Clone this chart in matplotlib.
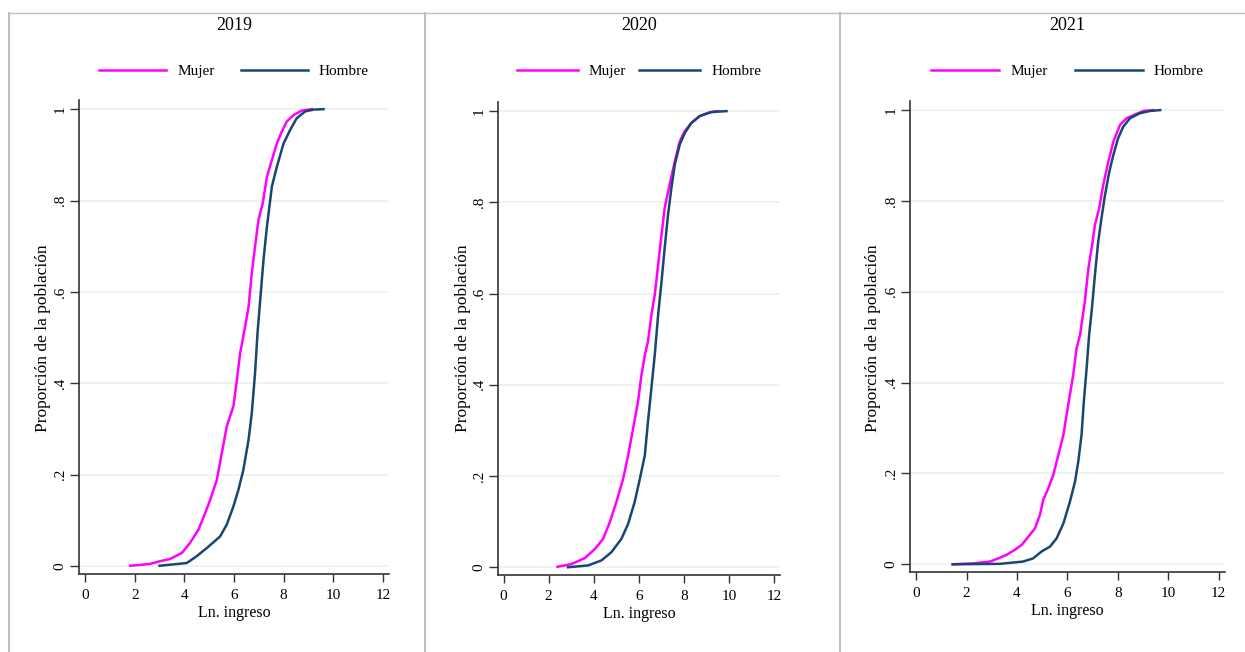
import matplotlib
matplotlib.use("Agg")
import matplotlib.pyplot as plt
from matplotlib.lines import Line2D

years = ["2019", "2020", "2021"]

x_mujer_2019 = [1.82, 2.62, 3.02, 3.43, 3.90, 4.23, 4.57, 4.84, 5.04, 5.31, 5.51, 5.71, 5.98, 6.12, 6.25,
                6.45, 6.59, 6.72, 6.85, 6.99, 7.16, 7.33, 7.53, 7.73, 7.93, 8.13, 8.40, 8.74, 9.14]
y_mujer_2019 = [0.001, 0.005, 0.011, 0.016, 0.029, 0.051, 0.080, 0.116, 0.145, 0.189, 0.247, 0.306, 0.350, 0.408, 0.466,
                0.524, 0.568, 0.641, 0.699, 0.758, 0.794, 0.852, 0.889, 0.925, 0.951, 0.973, 0.987, 0.997, 1.0]
x_hombre_2019 = [3.00, 4.10, 4.50, 4.91, 5.44, 5.71, 5.98, 6.18, 6.38, 6.59, 6.72, 6.85, 6.95,
                 7.06, 7.19, 7.33, 7.53, 7.73, 8.00, 8.27, 8.53, 8.87, 9.21, 9.61]
y_hombre_2019 = [0.001, 0.007, 0.022, 0.040, 0.065, 0.091, 0.131, 0.167, 0.211, 0.277, 0.335, 0.422, 0.510,
                 0.583, 0.670, 0.743, 0.831, 0.874, 0.925, 0.955, 0.980, 0.995, 0.999, 1.0]

x_mujer_2020 = [2.39, 3.01, 3.60, 4.05, 4.41, 4.71, 5.00, 5.30, 5.52, 5.74, 5.96, 6.11, 6.26, 6.40,
                6.55, 6.70, 6.85, 7.00, 7.14, 7.36, 7.59, 7.81, 8.03, 8.32, 8.69, 9.10, 9.50]
y_mujer_2020 = [0.001, 0.007, 0.020, 0.040, 0.062, 0.099, 0.143, 0.194, 0.245, 0.304, 0.363, 0.421, 0.465, 0.495,
                0.553, 0.597, 0.663, 0.729, 0.788, 0.839, 0.890, 0.934, 0.956, 0.974, 0.989, 0.997, 1.0]
x_hombre_2020 = [2.86, 3.75, 4.34, 4.78, 5.22, 5.52, 5.81, 6.04, 6.26, 6.40, 6.55, 6.70, 6.85,
                 7.00, 7.14, 7.29, 7.44, 7.59, 7.81, 8.03, 8.32, 8.69, 9.21, 9.88]
y_hombre_2020 = [0.0, 0.004, 0.015, 0.033, 0.062, 0.095, 0.143, 0.194, 0.245, 0.319, 0.392, 0.465, 0.553,
                 0.626, 0.700, 0.773, 0.832, 0.883, 0.927, 0.952, 0.974, 0.989, 0.998, 1.0]

x_mujer_2021 = [1.45, 2.27, 2.93, 3.26, 3.59, 3.92, 4.19, 4.51, 4.71, 4.91, 5.04, 5.24, 5.44, 5.64, 5.84, 6.03,
                6.23, 6.36, 6.50, 6.69, 6.83, 6.96, 7.09, 7.26, 7.42, 7.62, 7.82, 8.08, 8.34, 8.67, 9.01, 9.40]
y_mujer_2021 = [0.0, 0.002, 0.006, 0.013, 0.021, 0.032, 0.043, 0.065, 0.079, 0.109, 0.142, 0.167, 0.197, 0.241, 0.285, 0.351,
                0.417, 0.475, 0.505, 0.578, 0.651, 0.696, 0.747, 0.784, 0.835, 0.886, 0.930, 0.967, 0.982, 0.990, 0.998, 1.0]
x_hombre_2021 = [1.45, 3.33, 4.24, 4.64, 4.97, 5.31, 5.57, 5.84, 6.10, 6.30, 6.43, 6.56, 6.65, 6.76,
                 6.86, 6.97, 7.09, 7.22, 7.35, 7.49, 7.66, 7.82, 8.01, 8.21, 8.48, 8.87, 9.27, 9.68]
y_hombre_2021 = [0.0, 0.001, 0.006, 0.013, 0.028, 0.039, 0.057, 0.090, 0.138, 0.182, 0.226, 0.285, 0.358, 0.431,
                 0.505, 0.563, 0.637, 0.710, 0.762, 0.813, 0.864, 0.901, 0.938, 0.963, 0.982, 0.993, 0.998, 1.0]

x_ticks = [0, 2, 4, 6, 8, 10, 12]
y_ticks = [0, 0.2, 0.4, 0.6, 0.8, 1.0]
y_tick_labels = ["0", ".2", ".4", ".6", ".8", "1"]

# === STYLE ===
W, H = 1245, 652
MUJER_COLOR = "#ff00ff"
HOMBRE_COLOR = "#1a476f"
GRID_COLOR = "#eaf2f3"
BORDER_COLOR = "#bfbfbf"
plt.rcParams["font.family"] = ["Liberation Serif", "DejaVu Serif"]


def fx(x):
    return x / W


def fy(y):
    return 1 - y / H


def box(l, t, r, b):
    return [fx(l), fy(b), (r - l) / W, (b - t) / H]


# pixel boxes of the three plot regions, and where their texts sit
panels = [
    dict(box=(79, 100, 389, 574), ylab_x=43, handle=4.38, colsp=1.7),
    dict(box=(498, 102, 780, 575), ylab_x=463, handle=4.0, colsp=0.85),
    dict(box=(910, 101, 1225, 572), ylab_x=873, handle=4.45, colsp=1.8),
]
series = [
    (x_mujer_2019, y_mujer_2019, x_hombre_2019, y_hombre_2019),
    (x_mujer_2020, y_mujer_2020, x_hombre_2020, y_hombre_2020),
    (x_mujer_2021, y_mujer_2021, x_hombre_2021, y_hombre_2021),
]

fig = plt.figure(figsize=(W / 100, H / 100), dpi=100)

for year, p, (xm, ym, xh, yh) in zip(years, panels, series):
    l, t, r, b = p["box"]
    ax = fig.add_axes(box(l, t, r, b))
    cx = (l + r) / 2

    for yv in y_ticks:
        ax.axhline(yv, color=GRID_COLOR, linewidth=1.2, zorder=0)

    lm, = ax.plot(xm, ym, color=MUJER_COLOR, linewidth=1.8, label="Mujer")
    lh, = ax.plot(xh, yh, color=HOMBRE_COLOR, linewidth=1.8, label="Hombre")

    ax.set_xlim(-0.245, 12.25)
    ax.set_ylim(-0.017, 1.02)
    ax.set_xticks(x_ticks)
    ax.set_yticks(y_ticks)
    ax.set_yticklabels(y_tick_labels)
    ax.tick_params(axis="x", length=6, width=1, pad=5, labelsize=11, color="#333333")
    ax.tick_params(axis="y", length=6.5, width=1, pad=2.5, labelsize=11, color="#333333",
                   labelrotation=90)
    for lab in ax.get_yticklabels():
        lab.set_va("center")

    for side in ["top", "right"]:
        ax.spines[side].set_visible(False)
    for side in ["left", "bottom"]:
        ax.spines[side].set_color("#333333")
        ax.spines[side].set_linewidth(1.2)

    ax.set_xlabel("Ln. ingreso", fontsize=11.5, labelpad=2)

    fig.text(fx(p["ylab_x"]), fy(338), "Proporción de la población", rotation=90,
             ha="center", va="center", fontsize=12.5)
    fig.text(fx(cx), fy(26), year, ha="center", va="center", fontsize=13)

    ax.legend(handles=[lm, lh], loc="center", bbox_to_anchor=(fx(cx), fy(71)),
              bbox_transform=fig.transFigure, ncol=2, frameon=False, fontsize=11,
              handlelength=p["handle"], handletextpad=0.72, columnspacing=p["colsp"])

# gray frame lines around the pasted panels
fig.add_artist(Line2D([fx(9), 1], [fy(12.5), fy(12.5)], color=BORDER_COLOR, linewidth=1))
for xv in [9, 425, 840]:
    fig.add_artist(Line2D([fx(xv), fx(xv)], [fy(12.5), 0], color=BORDER_COLOR, linewidth=1.5))

fig.savefig("out.png", dpi=100)
plt.close(fig)
